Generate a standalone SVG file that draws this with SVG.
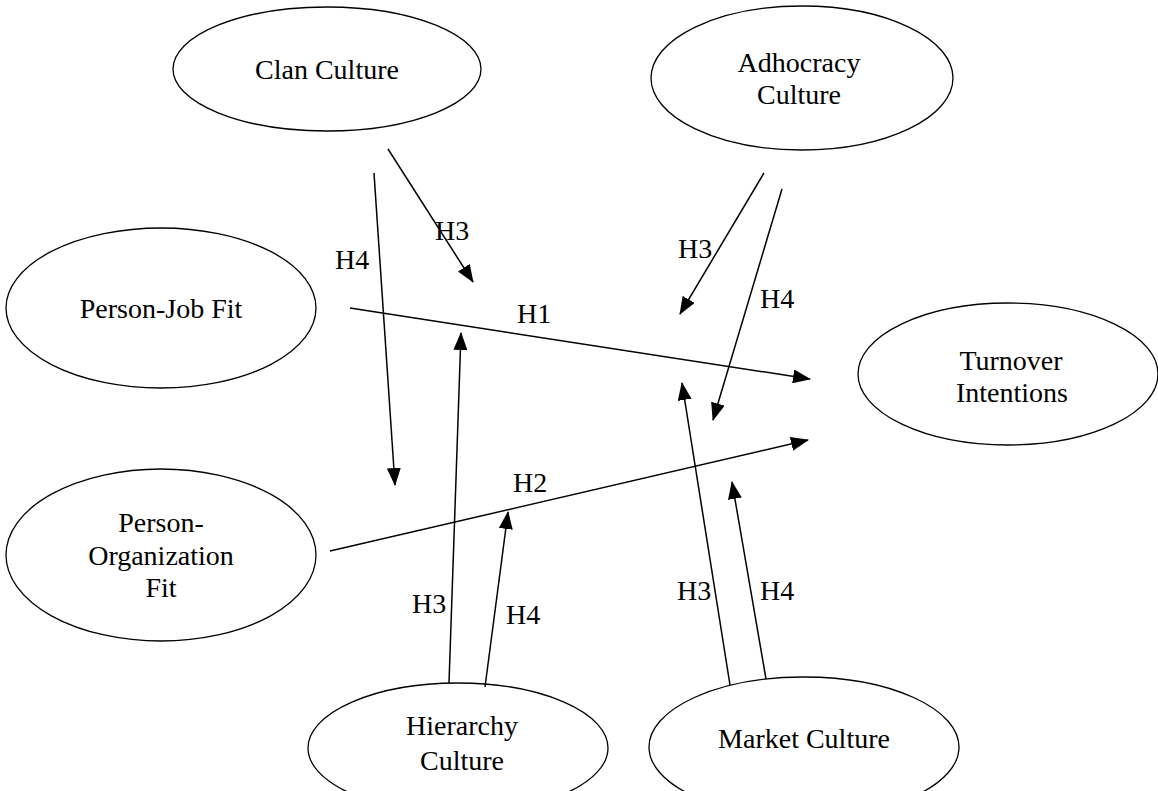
<svg xmlns="http://www.w3.org/2000/svg" width="1158" height="791" viewBox="0 0 1158 791">
<style>
.node ellipse{fill:#fff;stroke:#000;stroke-width:1.3}
.lbl{font-family:"Liberation Serif","Times New Roman",serif;font-size:28px;fill:#000;text-anchor:middle}
.hl{font-family:"Liberation Serif","Times New Roman",serif;font-size:28px;fill:#000}
#connectors line{stroke:#000;stroke-width:1.5}
</style>
<defs>
<marker id="arr" markerUnits="userSpaceOnUse" markerWidth="18" markerHeight="14" refX="17" refY="7" orient="auto">
<path d="M0,0 L18,7 L0,14 z" fill="#000"/>
</marker>
</defs>
<rect width="1158" height="791" fill="#fff"/>
<g id="clan" class="node"><ellipse cx="327" cy="69" rx="154" ry="62"/><text class="lbl" x="327" y="79">Clan Culture</text></g>
<g id="adhocracy" class="node"><ellipse cx="802" cy="78" rx="151" ry="72"/><text class="lbl" x="799" y="72">Adhocracy</text><text class="lbl" x="799" y="104">Culture</text></g>
<g id="pjfit" class="node"><ellipse cx="161" cy="308" rx="155" ry="80"/><text class="lbl" x="161" y="318">Person-Job Fit</text></g>
<g id="pofit" class="node"><ellipse cx="161" cy="555" rx="155" ry="86"/><text class="lbl" x="161" y="532">Person-</text><text class="lbl" x="161" y="565">Organization</text><text class="lbl" x="161" y="597">Fit</text></g>
<g id="turnover" class="node"><ellipse cx="1008" cy="374" rx="150" ry="71"/><text class="lbl" x="1011" y="370">Turnover</text><text class="lbl" x="1012" y="402">Intentions</text></g>
<g id="hierarchy" class="node"><ellipse cx="458" cy="748" rx="150" ry="65"/><text class="lbl" x="462" y="735">Hierarchy</text><text class="lbl" x="462" y="770">Culture</text></g>
<g id="market" class="node"><ellipse cx="804" cy="747" rx="155" ry="70"/><text class="lbl" x="804" y="748">Market Culture</text></g>
<g id="connectors">
<line x1="350" y1="308" x2="810" y2="379" marker-end="url(#arr)"/>
<line x1="330" y1="551" x2="808" y2="440" marker-end="url(#arr)"/>
<line x1="388" y1="149" x2="473" y2="282" marker-end="url(#arr)"/>
<line x1="374" y1="173" x2="395" y2="485" marker-end="url(#arr)"/>
<line x1="764" y1="173" x2="680" y2="314" marker-end="url(#arr)"/>
<line x1="782" y1="189" x2="713" y2="420" marker-end="url(#arr)"/>
<line x1="449" y1="683" x2="461" y2="333" marker-end="url(#arr)"/>
<line x1="485" y1="687" x2="508" y2="512" marker-end="url(#arr)"/>
<line x1="730" y1="685" x2="682" y2="383" marker-end="url(#arr)"/>
<line x1="766" y1="679" x2="732" y2="482" marker-end="url(#arr)"/>
<text class="hl" x="517" y="323">H1</text>
<text class="hl" x="513" y="492">H2</text>
<text class="hl" x="435" y="240">H3</text>
<text class="hl" x="335" y="269">H4</text>
<text class="hl" x="678" y="258">H3</text>
<text class="hl" x="760" y="308">H4</text>
<text class="hl" x="412" y="613">H3</text>
<text class="hl" x="506" y="624">H4</text>
<text class="hl" x="677" y="600">H3</text>
<text class="hl" x="760" y="600">H4</text>
</g>
</svg>
